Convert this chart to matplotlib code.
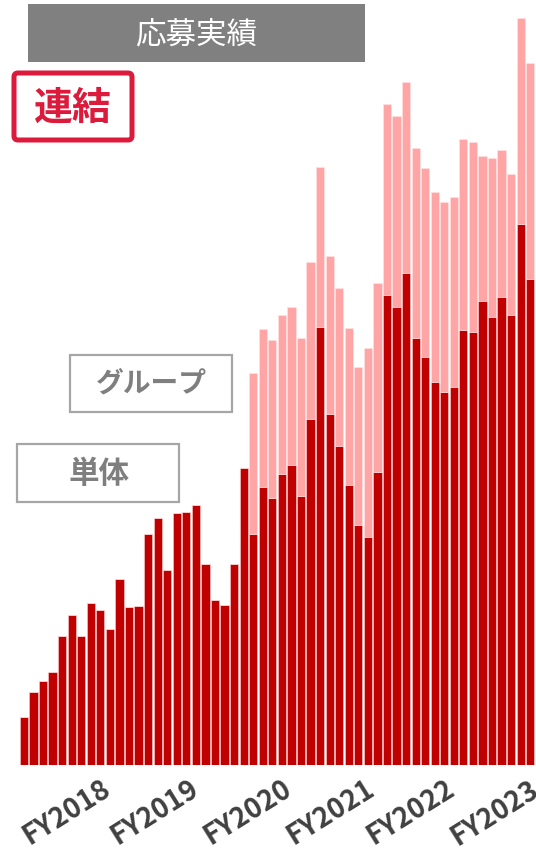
import matplotlib
matplotlib.use("Agg")
import matplotlib.pyplot as plt
from matplotlib.patches import FancyBboxPatch, Rectangle
import numpy as np

plt.rcParams['font.family'] = ['Noto Sans CJK JP', 'DejaVu Sans']

# Monthly application counts (arbitrary units)
standalone = [48, 73, 84, 93, 129, 150, 129, 162, 155, 136,
              186, 158, 159, 231, 247, 195, 252, 253, 260, 201,
              165, 160, 201, 297, 231, 278, 267, 291, 300, 269,
              346, 438, 351, 319, 280, 240, 228, 293, 470, 458,
              492, 427, 408, 383, 373, 378, 435, 433, 464, 448,
              468, 450, 541, 486]
consolidated = [48, 73, 84, 93, 129, 150, 129, 162, 155, 136,
                186, 158, 159, 231, 247, 195, 252, 253, 260, 201,
                165, 160, 201, 297, 392, 436, 425, 450, 458, 427,
                503, 598, 509, 477, 437, 398, 417, 482, 661, 649,
                683, 617, 597, 573, 563, 568, 626, 623, 609, 607,
                615, 591, 747, 702]
group = [c - s for c, s in zip(consolidated, standalone)]

fy_labels = ['FY2018', 'FY2019', 'FY2020', 'FY2021', 'FY2022', 'FY2023']
fy_tick_pos = [8.8, 18.0, 27.8, 36.5, 44.8, 53.6]

title_text = '応募実績'
scope_text = '連結'
group_text = 'グループ'
single_text = '単体'

DARK = '#C00000'
PINK = '#FFA5A5'

W, H = 536, 853
fig = plt.figure(figsize=(W / 100, H / 100), dpi=100)

base_px = 766
ax = fig.add_axes([0, (H - base_px) / H, 1, base_px / H])
x = np.arange(len(standalone))
ax.bar(x, standalone, width=0.86, color=DARK,
       edgecolor=(1, 0.85, 0.85, 0.7), linewidth=0.5)
ax.bar(x, group, bottom=standalone, width=0.86, color=PINK,
       edgecolor=(1, 0.9, 0.9, 0.7), linewidth=0.5)

ax.set_xlim(-2.5, (W - 24) / 9.6)
ax.set_ylim(0, base_px)
for s in ax.spines.values():
    s.set_visible(False)
ax.set_yticks([])
ax.set_xticks(fy_tick_pos)
ax.set_xticklabels(fy_labels, rotation=32, ha='right', va='center',
                   rotation_mode='anchor', fontsize=20, fontweight='bold',
                   color='#404040')
ax.tick_params(axis='x', length=0, pad=15)

# Overlay annotations in pixel coordinates
ov = fig.add_axes([0, 0, 1, 1], facecolor='none')
ov.set_xlim(0, W)
ov.set_ylim(H, 0)
ov.axis('off')

ov.add_patch(Rectangle((28, 5), 337, 58, facecolor='#808080', edgecolor='none'))
ov.text(196, 35, title_text, color='white', fontsize=22, ha='center',
        va='center')

ov.add_patch(FancyBboxPatch((14, 74), 118, 67,
                            boxstyle='round,pad=0,rounding_size=4',
                            facecolor='white', edgecolor='#DC1A3C',
                            linewidth=3.6))
ov.text(73, 108, scope_text, color='#DC1A3C', fontsize=28,
        fontweight='bold', ha='center', va='center')

ov.add_patch(Rectangle((70, 356), 162, 57, facecolor='white',
                       edgecolor='#A6A6A6', linewidth=1.6))
ov.text(151, 384, group_text, color='#7F7F7F', fontsize=20,
        fontweight='bold', ha='center', va='center')

ov.add_patch(Rectangle((17, 445), 162, 58, facecolor='white',
                       edgecolor='#A6A6A6', linewidth=1.6))
ov.text(99, 474, single_text, color='#7F7F7F', fontsize=22,
        fontweight='bold', ha='center', va='center')

fig.savefig('out.png', dpi=100)
